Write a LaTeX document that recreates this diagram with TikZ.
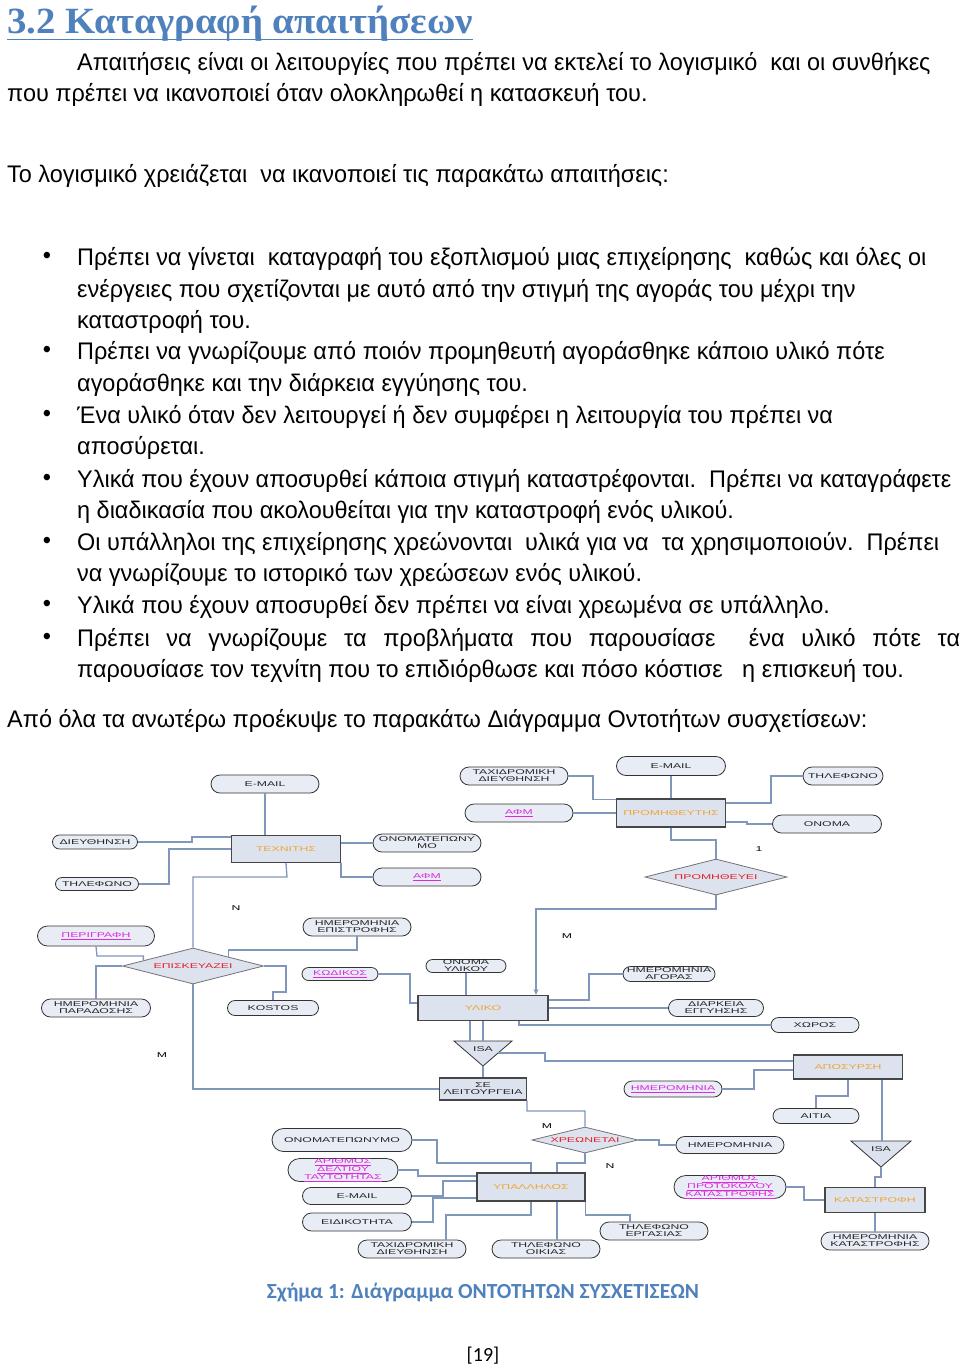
\documentclass[tikz,border=0pt]{standalone}
\usepackage{fontspec}
\setmainfont{Liberation Sans}
\newfontfamily\bodyfont[FakeStretch=0.977]{Liberation Sans}
\newfontfamily\headfont[FakeStretch=1.05]{Liberation Serif}
\newfontfamily\dfont[FakeStretch=1.75]{Liberation Sans}
\newfontfamily\capfont{Carlito}
\usetikzlibrary{shapes.geometric,shapes.misc,arrows.meta,calc}
\definecolor{headblue}{RGB}{79,129,189}
\definecolor{lineblue}{RGB}{128,150,186}
\definecolor{attrfill}{RGB}{232,236,245}
\definecolor{entfill}{RGB}{220,227,238}
\definecolor{entborder}{RGB}{70,70,70}
\definecolor{entcol}{RGB}{240,165,50}
\definecolor{relcol}{RGB}{230,30,40}
\definecolor{keycol}{RGB}{225,40,225}
\begin{document}
\begin{tikzpicture}[x=1pt,y=-1pt,
  txt/.style={anchor=base west, inner sep=0pt, font=\bodyfont\fontsize{24}{28}\selectfont},
  bul/.style={inner sep=0pt, font=\bodyfont\fontsize{24}{28}\selectfont},
  dtext/.style={font=\dfont\fontsize{7}{7}\selectfont, align=center, inner sep=0pt},
  attr/.style={dtext, rounded rectangle, draw=black!80, line width=0.8pt, fill=attrfill, text=black!85},
  keyattr/.style={attr, text=keycol},
  ent/.style={dtext, rectangle, draw=entborder, line width=1.2pt, fill=entfill, text=entcol},
  rel/.style={dtext, diamond, aspect=4, draw=black!55, line width=0.8pt, fill=entfill, text=relcol, inner sep=0pt},
  isatri/.style={draw=black!80, line width=0.8pt, fill=entfill},
  conn/.style={draw=lineblue, line width=1.3pt},
  card/.style={font=\dfont\fontsize{7}{7}\selectfont, inner sep=0pt}]
\useasboundingbox (0,0) rectangle (960,1369);
\fill[white] (0,0) rectangle (960,1369);

% ---------- heading ----------
\node[anchor=base west, inner sep=0pt, text=headblue, font=\headfont\bfseries\fontsize{37}{40}\selectfont] (title) at (7,33) {3.2 Καταγραφή απαιτήσεων};
\draw[headblue, line width=1.5pt] (title.south west |- 0,39.5) -- (title.south east |- 0,39.5);

% ---------- body ----------
\node[txt] (l1) at (77,70) {Απαιτήσεις είναι οι λειτουργίες που πρέπει να εκτελεί το λογισμικό\ \ και οι συνθήκες};
\node[txt] (l2) at (7,101) {που πρέπει να ικανοποιεί όταν ολοκληρωθεί η κατασκευή του.};
\node[txt] (l3) at (7,182) {Το λογισμικό χρειάζεται\ \ να ικανοποιεί τις παρακάτω απαιτήσεις:};

\node[bul] (b1) at (47,258) {•};
\node[txt] (b1a) at (77,265) {Πρέπει να γίνεται\ \ καταγραφή του εξοπλισμού μιας επιχείρησης\ \ καθώς και όλες οι};
\node[txt] (b1b) at (77,297) {ενέργειες που σχετίζονται με αυτό από την στιγμή της αγοράς του μέχρι την};
\node[txt] (b1c) at (77,328) {καταστροφή του.};
\node[bul] (b2) at (47,352) {•};
\node[txt] (b2a) at (77,359) {Πρέπει να γνωρίζουμε από ποιόν προμηθευτή αγοράσθηκε κάποιο υλικό πότε};
\node[txt] (b2b) at (77,391) {αγοράσθηκε και την διάρκεια εγγύησης του.};
\node[bul] (b3) at (47,416) {•};
\node[txt] (b3a) at (77,423) {Ένα υλικό όταν δεν λειτουργεί ή δεν συμφέρει η λειτουργία του πρέπει να};
\node[txt] (b3b) at (77,454) {αποσύρεται.};
\node[bul] (b4) at (47,480) {•};
\node[txt] (b4a) at (77,487) {Υλικά που έχουν αποσυρθεί κάποια στιγμή καταστρέφονται.\ \ Πρέπει να καταγράφετε};
\node[txt] (b4b) at (77,518) {η διαδικασία που ακολουθείται για την καταστροφή ενός υλικού.};
\node[bul] (b5) at (47,543) {•};
\node[txt] (b5a) at (77,550) {Οι υπάλληλοι της επιχείρησης χρεώνονται\ \ υλικά για να\ \ τα χρησιμοποιούν.\ \ Πρέπει};
\node[txt] (b5b) at (77,581) {να γνωρίζουμε το ιστορικό των χρεώσεων ενός υλικού.};
\node[bul] (b6) at (47,606) {•};
\node[txt] (b6a) at (77,613) {Υλικά που έχουν αποσυρθεί δεν πρέπει να είναι χρεωμένα σε υπάλληλο.};
\node[bul] (b7) at (47,639) {•};
\node[txt] (b7a) at (77,646) {\makebox[883pt][s]{Πρέπει να γνωρίζουμε τα προβλήματα που παρουσίασε\ \ ένα υλικό πότε τα}};
\node[txt] (b7b) at (77,677) {παρουσίασε τον τεχνίτη που το επιδιόρθωσε και πόσο κόστισε\ \ \ η επισκευή του.};
\node[txt] (l4) at (7,727) {Από όλα τα ανωτέρω προέκυψε το παρακάτω Διάγραμμα Οντοτήτων συσχετίσεων:};

% ---------- diagram: shapes ----------
% ΤΕΧΝΙΤΗΣ
\node[ent, minimum width=109pt, minimum height=27pt] (tex) at (286,849) {ΤΕΧΝΙΤΗΣ};
\node[attr, minimum width=108pt, minimum height=18pt] (em1) at (265,784) {E-MAIL};
\node[attr, minimum width=85pt, minimum height=14pt] (dieu) at (95,842) {ΔΙΕΥΘΗΝΣΗ};
\node[attr, minimum width=83pt, minimum height=13pt] (til1) at (97,884) {ΤΗΛΕΦΩΝΟ};
\node[attr, minimum width=108pt, minimum height=18pt] (onom1) at (427,843) {ΟΝΟΜΑΤΕΠΩΝΥ\\ΜΟ};
\node[keyattr, minimum width=108pt, minimum height=18pt] (afm1) at (427,877) {\underline{ΑΦΜ}};
% ΕΠΙΣΚΕΥΑΖΕΙ
\node[rel, minimum width=141pt, minimum height=36pt] (episk) at (193,966) {ΕΠΙΣΚΕΥΑΖΕΙ};
\node[keyattr, minimum width=117pt, minimum height=20pt] (perig) at (96,936) {\underline{ΠΕΡΙΓΡΑΦΗ}};
\node[attr, minimum width=109pt, minimum height=18pt] (hmpar) at (96,1008) {ΗΜΕΡΟΜΗΝΙΑ\\ΠΑΡΑΔΟΣΗΣ};
\node[attr, minimum width=91pt, minimum height=15pt] (kostos) at (273,1008) {KOSTOS};
\node[attr, minimum width=108pt, minimum height=18pt] (hmepi) at (357,927) {ΗΜΕΡΟΜΗΝΙΑ\\ΕΠΙΣΤΡΟΦΗΣ};
% ΥΛΙΚΟ
\node[ent, minimum width=130pt, minimum height=25pt] (yliko) at (483,1008) {ΥΛΙΚΟ};
\node[keyattr, minimum width=76pt, minimum height=13pt] (kod) at (340,974) {\underline{ΚΩΔΙΚΟΣ}};
\node[attr, minimum width=80pt, minimum height=13pt] (onyl) at (466,966) {ΟΝΟΜΑ\\ΥΛΙΚΟΥ};
\node[attr, minimum width=92pt, minimum height=15pt] (hmag) at (669,974) {ΗΜΕΡΟΜΗΝΙΑ\\ΑΓΟΡΑΣ};
\node[attr, minimum width=95pt, minimum height=17pt] (diark) at (716,1008) {ΔΙΑΡΚΕΙΑ\\ΕΓΓΥΗΣΗΣ};
\node[attr, minimum width=88pt, minimum height=15pt] (xoros) at (815,1025) {ΧΩΡΟΣ};
% ISA 1
\draw[isatri] (454,1041) -- (512,1041) -- (483,1066) -- cycle;
\coordinate (isa1top) at (483,1041);
\coordinate (isa1topl) at (470,1041);
\coordinate (isa1apex) at (483,1066);
\coordinate (isa1right) at (498,1053);
\node[dtext, text=black!85] (isa1) at (483,1049) {ISA};
\node[ent, text=black!85, minimum width=87pt, minimum height=22pt] (selei) at (483,1089) {ΣΕ\\ΛΕΙΤΟΥΡΓΕΙΑ};
% ΑΠΟΣΥΡΣΗ
\node[ent, minimum width=109pt, minimum height=24pt] (apos) at (848,1067) {ΑΠΟΣΥΡΣΗ};
\node[keyattr, minimum width=98pt, minimum height=16pt] (hmapo) at (673,1089) {\underline{ΗΜΕΡΟΜΗΝΙΑ}};
\node[attr, minimum width=86pt, minimum height=15pt] (aitia) at (816,1116) {ΑΙΤΙΑ};
% ISA 2
\draw[isatri] (851,1141) -- (911,1141) -- (881,1167) -- cycle;
\coordinate (isa2apex) at (881,1167);
\node[dtext, text=black!85] (isa2) at (881,1149) {ISA};
\node[ent, minimum width=100pt, minimum height=25pt] (katastr) at (875,1200) {ΚΑΤΑΣΤΡΟΦΗ};
\node[keyattr, minimum width=108pt, minimum height=19pt, font=\dfont\fontsize{7}{6.4}\selectfont] (arprot) at (730,1187) {\underline{ΑΡΙΘΜΟΣ}\\\underline{ΠΡΟΤΟΚΟΛΟΥ}\\\underline{ΚΑΤΑΣΤΡΟΦΗΣ}};
\node[attr, minimum width=108pt, minimum height=18pt] (hmkat) at (875,1241) {ΗΜΕΡΟΜΗΝΙΑ\\ΚΑΤΑΣΤΡΟΦΗΣ};
% ΧΡΕΩΝΕΤΑΙ / ΥΠΑΛΛΗΛΟΣ
\node[rel, minimum width=106pt, minimum height=26pt] (xre) at (585,1140) {ΧΡΕΩΝΕΤΑΙ};
\node[attr, minimum width=108pt, minimum height=17pt] (hmxre) at (730,1145) {ΗΜΕΡΟΜΗΝΙΑ};
\node[ent, minimum width=108pt, minimum height=28pt] (ypal) at (531,1187) {ΥΠΑΛΛΗΛΟΣ};
\node[attr, minimum width=140pt, minimum height=23pt] (onom2) at (342,1140) {ΟΝΟΜΑΤΕΠΩΝΥΜΟ};
\node[keyattr, minimum width=110pt, minimum height=21pt, font=\dfont\fontsize{7}{6.4}\selectfont] (ardel) at (343,1170) {\underline{ΑΡΙΘΜΟΣ}\\\underline{ΔΕΛΤΙΟΥ}\\\underline{ΤΑΥΤΟΤΗΤΑΣ}};
\node[attr, minimum width=109pt, minimum height=17pt] (em2) at (357,1196) {E-MAIL};
\node[attr, minimum width=109pt, minimum height=18pt] (eidik) at (357,1222) {ΕΙΔΙΚΟΤΗΤΑ};
\node[attr, minimum width=108pt, minimum height=18pt] (taxd2) at (412,1249) {ΤΑΧΙΔΡΟΜΙΚΗ\\ΔΙΕΥΘΗΝΣΗ};
\node[attr, minimum width=108pt, minimum height=18pt] (tiloik) at (546,1249) {ΤΗΛΕΦΩΝΟ\\ΟΙΚΙΑΣ};
\node[attr, minimum width=108pt, minimum height=18pt] (tilerg) at (654,1231) {ΤΗΛΕΦΩΝΟ\\ΕΡΓΑΣΙΑΣ};
% ΠΡΟΜΗΘΕΥΤΗΣ
\node[ent, minimum width=109pt, minimum height=28pt] (prom) at (671,813) {ΠΡΟΜΗΘΕΥΤΗΣ};
\node[attr, minimum width=109pt, minimum height=19pt] (em3) at (671,766) {E-MAIL};
\node[attr, minimum width=80pt, minimum height=18pt] (til3) at (843,776) {ΤΗΛΕΦΩΝΟ};
\node[attr, minimum width=109pt, minimum height=18pt] (onoma) at (827,824) {ΟΝΟΜΑ};
\node[attr, minimum width=108pt, minimum height=18pt] (taxd1) at (514,776) {ΤΑΧΙΔΡΟΜΙΚΗ\\ΔΙΕΥΘΗΝΣΗ};
\node[keyattr, minimum width=108pt, minimum height=18pt] (afm2) at (519,813) {\underline{ΑΦΜ}};
\node[rel, minimum width=142pt, minimum height=36pt] (promd) at (716,877) {ΠΡΟΜΗΘΕΥΕΙ};

% cardinalities
\node[card] (cN1) at (236,908) {N};
\node[card] (cM1) at (162,1055) {M};
\node[card] (cM2) at (567,936) {M};
\node[card] (c1) at (759,849) {1};
\node[card] (cM3) at (547,1126) {M};
\node[card] (cN2) at (610,1166) {N};

% ---------- connectors ----------
\draw[conn] (em1.south) -- (em1.south |- tex.north);
\draw[conn] (dieu.east) -- (192,842) -- (192,837) -- (tex.west |- 0,837);
\draw[conn] (til1.east) -- (169,884) -- (169,849) -- (tex.west);
\draw[conn] (tex.south) -- (287,877) -| (episk.north);
\draw[conn] (tex.east |- onom1.west) -- (onom1.west);
\draw[conn] (tex.south east) |- (afm1.west);
\draw[conn] (hmepi.south) -- (357,950) -| (episk.north east);
\draw[conn] (perig.south) -- (97,956) -| ($(episk.west)!0.3!(episk.north)$);
\draw[conn] (hmpar.north) |- (episk.west);
\draw[conn] (episk.east) -- (286,966) -- (286,992) -- (273,992) -- (kostos.north);
\draw[conn] (episk.south) |- (selei.west);
\draw[conn] (kod.east) -- (410,974) -- (410,1003) -- (yliko.west |- 0,1003);
\draw[conn] (onyl.south) -- (onyl.south |- yliko.north);
\draw[conn] (hmag.west) -- (589,974) -- (589,1000) -- (yliko.east |- 0,1000);
\draw[conn] (diark.west) -- (yliko.east |- diark.west);
\draw[conn] (xoros.west) -| ($(yliko.south)+(36,0)$);
\draw[conn, -{Stealth[length=6pt,width=5pt]}] (promd.south) -- (716,909) -| ($(yliko.north)+(53,0)$);
\draw[conn] (prom.south) -- (671,840) -| (promd.north);
\draw[conn] (em3.south) -- (prom.north);
\draw[conn] ($(prom.east)+(0,-10)$) -- (771,803) |- (til3.west);
\draw[conn] ($(prom.east)+(0,9)$) -- (747,822) -- (747,824) -- (onoma.west);
\draw[conn] (taxd1.east) -- (593,776) |- ($(prom.north west)+(0,1)$);
\draw[conn] (afm2.east) -- (prom.west);
\draw[conn] (yliko.south) -- (isa1top);
\draw[conn] ($(yliko.south)+(-13,0)$) -- (isa1topl);
\draw[conn] (isa1apex) -- (selei.north);
\draw[conn] (isa1right) -- (545,1053) -- (545,1061) -- (apos.west |- 0,1061);
\draw[conn] (hmapo.east) -- (754,1089) -- (754,1070) -- (apos.west |- 0,1070);
\draw[conn] (apos.south) -- (848,1096) -| (aitia.north);
\draw[conn] ($(apos.south)+(34,0)$) -- (882,1141);
\draw[conn] (isa2apex) -- (881,1177) -- (875,1177) -- (katastr.north);
\draw[conn] (arprot.east) -- (804,1187) |- (katastr.west);
\draw[conn] (katastr.south) -- (hmkat.north);
\draw[conn] (selei.south east) -- (527,1111) -| (xre.north);
\draw[conn] (xre.east) -- (659,1140) -- (659,1145) -- (hmxre.west);
\draw[conn] (xre.south) -- (585,1163) -| ($(ypal.north)+(26,0)$);
\draw[conn] (onom2.east) -- (437,1140) |- (531,1163) -- (ypal.north);
\draw[conn] (ardel.east) -- (418,1170) -- (418,1176) -- (ypal.west |- 0,1176);
\draw[conn] (em2.east) -- (443,1196) -- (443,1181) -- (ypal.west |- 0,1181);
\draw[conn] (eidik.east) -- (433,1222) -- (433,1198) -- (ypal.west |- 0,1198);
\draw[conn] ($(taxd2.north)+(34,0)$) -- (446,1215) -| (ypal.south);
\draw[conn] ($(tiloik.north)+(11,0)$) -- ($(ypal.south)+(26,0)$);
\draw[conn] ($(tilerg.north)+(-24,0)$) -- (630,1215) -| (ypal.south east);

% ---------- caption ----------
\node[inner sep=0pt, text=headblue, font=\capfont\bfseries\fontsize{21.5}{24}\selectfont] (cap) at (483,1293) {Σχήμα 1: Διάγραμμα ΟΝΤΟΤΗΤΩΝ ΣΥΣΧΕΤΙΣΕΩΝ};
\node[inner sep=0pt, font=\capfont\fontsize{20}{22}\selectfont] (pg) at (483,1356) {[19]};
\end{tikzpicture}
\end{document}
